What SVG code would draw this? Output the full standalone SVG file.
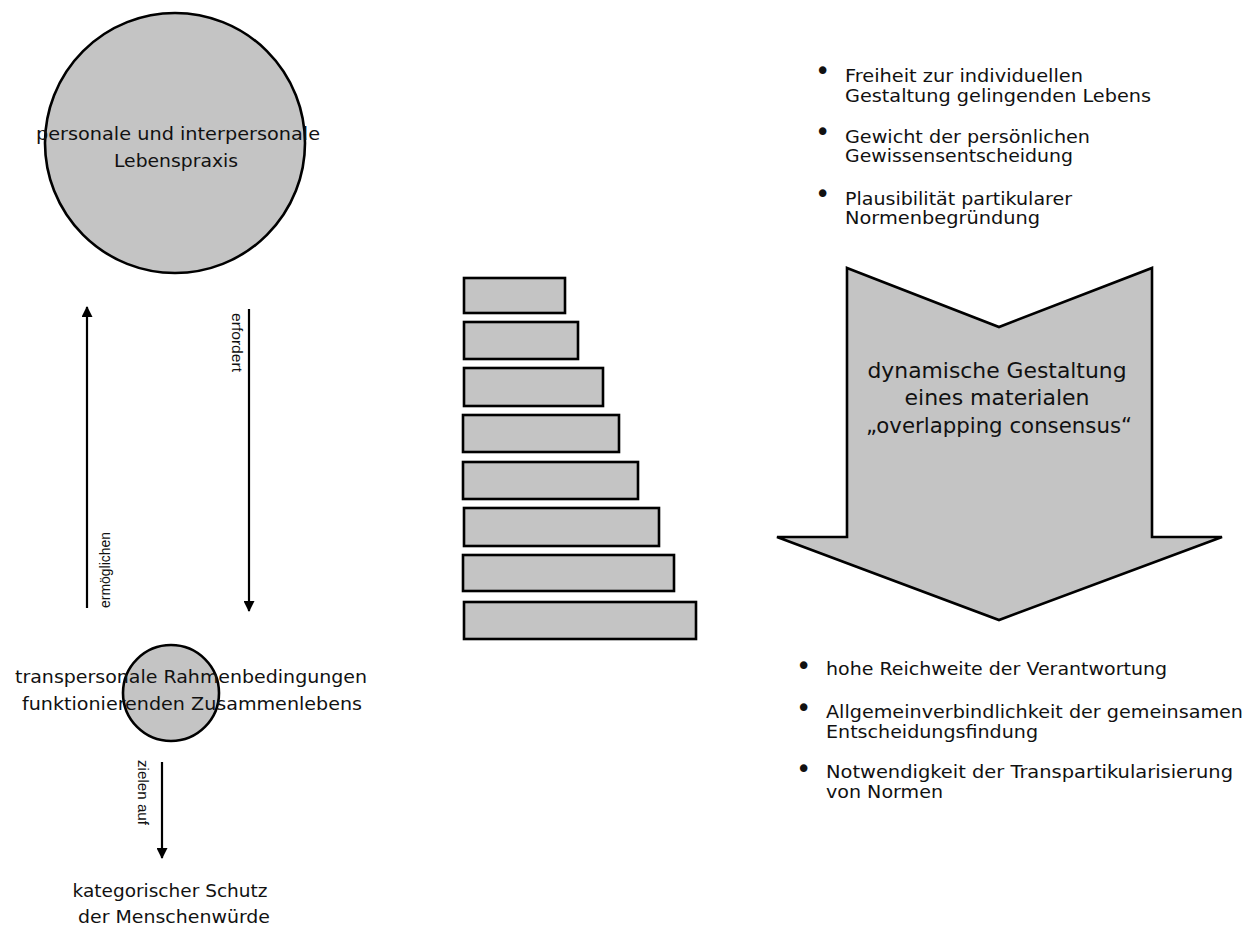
<svg xmlns="http://www.w3.org/2000/svg" width="1253" height="926" viewBox="0 0 1253 926">
<style>
.shape{fill:#c4c4c4;stroke:#000;stroke-width:2.6}
.t{font-family:"DejaVu Sans","Liberation Sans",sans-serif;fill:#111;font-size:17px}
.c{text-anchor:middle}
.m{font-size:18px}
.big{font-size:21px}
.bl{font-size:18px}
.lbl{font-family:"Liberation Sans",Arial,sans-serif;font-size:14px;fill:#111}
.b{font-family:"DejaVu Sans",sans-serif;font-size:26px;fill:#111}
.conn{stroke:#000;stroke-width:2.2;fill:none}
</style>
<defs>
<marker id="ah" viewBox="0 0 10 10" refX="9" refY="5" markerWidth="12" markerHeight="11" markerUnits="userSpaceOnUse" orient="auto">
<path d="M0,0 L10,5 L0,10 z" fill="#000"/>
</marker>
</defs>
<rect width="1253" height="926" fill="#fff"/>

<g id="node-lebenspraxis">
<circle class="shape" cx="175" cy="143" r="130"/>
<text class="t c" x="178" y="140" textLength="284" lengthAdjust="spacingAndGlyphs">personale und interpersonale</text>
<text class="t c" x="176" y="167" textLength="124" lengthAdjust="spacingAndGlyphs">Lebenspraxis</text>
</g>

<g id="node-rahmen">
<circle class="shape" cx="171" cy="693" r="48"/>
<text class="t c m" x="191" y="683" textLength="352" lengthAdjust="spacingAndGlyphs">transpersonale Rahmenbedingungen</text>
<text class="t c m" x="192" y="710" textLength="340" lengthAdjust="spacingAndGlyphs">funktionierenden Zusammenlebens</text>
</g>

<g id="node-schutz">
<text class="t c m" x="170" y="897" textLength="195" lengthAdjust="spacingAndGlyphs">kategorischer Schutz</text>
<text class="t c m" x="174" y="923" textLength="192" lengthAdjust="spacingAndGlyphs">der Menschenwürde</text>
</g>

<g id="connectors">
<line class="conn" x1="87" y1="608" x2="87" y2="307" marker-end="url(#ah)"/>
<line class="conn" x1="249" y1="309" x2="249" y2="611" marker-end="url(#ah)"/>
<line class="conn" x1="162" y1="762" x2="162" y2="858" marker-end="url(#ah)"/>
<text class="lbl" transform="translate(110,608) rotate(-90)" textLength="76" lengthAdjust="spacingAndGlyphs">ermöglichen</text>
<text class="lbl" transform="translate(232,313) rotate(90)" textLength="59" lengthAdjust="spacingAndGlyphs">erfordert</text>
<text class="lbl" transform="translate(138,760) rotate(90)" textLength="65" lengthAdjust="spacingAndGlyphs">zielen auf</text>
</g>

<g id="node-stufen">
<rect class="shape" x="464" y="278" width="101" height="35"/>
<rect class="shape" x="464" y="322" width="114" height="37"/>
<rect class="shape" x="464" y="368" width="139" height="38"/>
<rect class="shape" x="463" y="415" width="156" height="37"/>
<rect class="shape" x="463" y="462" width="175" height="37"/>
<rect class="shape" x="464" y="508" width="195" height="38"/>
<rect class="shape" x="463" y="555" width="211" height="36"/>
<rect class="shape" x="464" y="602" width="232" height="37"/>
</g>

<g id="node-pfeil">
<polygon class="shape" points="847,268 999,327 1152,268 1152,537 1222,537 999,620 777,537 847,537"/>
<text class="t c big" x="997" y="378" textLength="259" lengthAdjust="spacingAndGlyphs">dynamische Gestaltung</text>
<text class="t c big" x="997" y="405" textLength="185" lengthAdjust="spacingAndGlyphs">eines materialen</text>
<text class="t c big" x="999" y="433" textLength="266" lengthAdjust="spacingAndGlyphs">„overlapping consensus“</text>
</g>

<g id="node-bullets-oben">
<text class="b" x="815" y="80">•</text>
<text class="t bl" x="845" y="82" textLength="238" lengthAdjust="spacingAndGlyphs">Freiheit zur individuellen</text>
<text class="t bl" x="845" y="102" textLength="306" lengthAdjust="spacingAndGlyphs">Gestaltung gelingenden Lebens</text>
<text class="b" x="815" y="141">•</text>
<text class="t bl" x="845" y="143" textLength="245" lengthAdjust="spacingAndGlyphs">Gewicht der persönlichen</text>
<text class="t bl" x="845" y="162" textLength="228" lengthAdjust="spacingAndGlyphs">Gewissensentscheidung</text>
<text class="b" x="815" y="203">•</text>
<text class="t bl" x="845" y="205" textLength="227" lengthAdjust="spacingAndGlyphs">Plausibilität partikularer</text>
<text class="t bl" x="845" y="224" textLength="195" lengthAdjust="spacingAndGlyphs">Normenbegründung</text>
</g>

<g id="node-bullets-unten">
<text class="b" x="796" y="675">•</text>
<text class="t bl" x="826" y="675" textLength="341" lengthAdjust="spacingAndGlyphs">hohe Reichweite der Verantwortung</text>
<text class="b" x="796" y="717">•</text>
<text class="t bl" x="826" y="718" textLength="417" lengthAdjust="spacingAndGlyphs">Allgemeinverbindlichkeit der gemeinsamen</text>
<text class="t bl" x="826" y="738" textLength="212" lengthAdjust="spacingAndGlyphs">Entscheidungsfindung</text>
<text class="b" x="796" y="778">•</text>
<text class="t bl" x="826" y="778" textLength="407" lengthAdjust="spacingAndGlyphs">Notwendigkeit der Transpartikularisierung</text>
<text class="t bl" x="826" y="798" textLength="117" lengthAdjust="spacingAndGlyphs">von Normen</text>
</g>
</svg>
